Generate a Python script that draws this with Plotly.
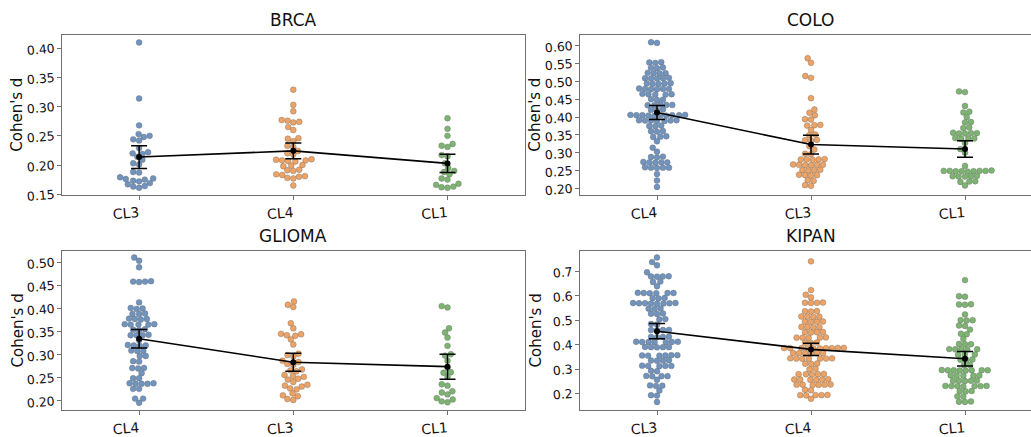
import numpy as np
import plotly.graph_objects as go

# ---------------- data ----------------
panel_titles = ["BRCA", "COLO", "GLIOMA", "KIPAN"]
brca_categories = ["CL3", "CL4", "CL1"]
colo_categories = ["CL4", "CL3", "CL1"]
glioma_categories = ["CL4", "CL3", "CL1"]
kipan_categories = ["CL3", "CL4", "CL1"]

brca_cl3 = [0.410, 0.314, 0.268, 0.253, 0.250, 0.248, 0.244, 0.242, 0.229, 0.222, 0.220, 0.219, 0.214,
            0.209, 0.203, 0.201, 0.188, 0.187, 0.179, 0.177, 0.176, 0.175, 0.173, 0.172, 0.169, 0.167,
            0.164, 0.163, 0.161]
brca_cl4 = [0.329, 0.303, 0.292, 0.277, 0.276, 0.274, 0.273, 0.265, 0.260, 0.246, 0.245, 0.241, 0.233,
            0.231, 0.224, 0.220, 0.218, 0.210, 0.209, 0.208, 0.208, 0.207, 0.206, 0.200, 0.199, 0.198,
            0.192, 0.191, 0.190, 0.184, 0.183, 0.181, 0.180, 0.178, 0.177, 0.165]
brca_cl1 = [0.280, 0.262, 0.250, 0.236, 0.233, 0.231, 0.217, 0.215, 0.203, 0.195, 0.190, 0.188, 0.184,
            0.177, 0.175, 0.168, 0.166, 0.163, 0.162, 0.161]

colo_cl4 = [0.610, 0.608,
            0.554, 0.553, 0.552,
            0.539, 0.538, 0.537,
            0.524, 0.523, 0.523, 0.522,
            0.510, 0.509, 0.509, 0.508, 0.508,
            0.495, 0.494, 0.494, 0.493, 0.493,
            0.480, 0.479, 0.479, 0.479, 0.478, 0.478,
            0.465, 0.464, 0.464, 0.463, 0.463,
            0.450, 0.449, 0.448,
            0.435, 0.434, 0.434, 0.433, 0.433,
            0.421, 0.420, 0.419,
            0.406, 0.406, 0.405, 0.405, 0.405, 0.405, 0.404, 0.404, 0.404, 0.403,
            0.391, 0.391, 0.390, 0.390, 0.390, 0.389, 0.389,
            0.376, 0.375, 0.374,
            0.361, 0.360, 0.359,
            0.346, 0.345, 0.344,
            0.332, 0.314, 0.303,
            0.289, 0.288, 0.287,
            0.274, 0.273, 0.273, 0.273, 0.272,
            0.259, 0.258, 0.258, 0.258, 0.257,
            0.240, 0.222, 0.204]
colo_cl3 = [0.565, 0.552, 0.515, 0.510, 0.453, 0.421, 0.412, 0.405,
            0.394, 0.393,
            0.378, 0.377, 0.376,
            0.364,
            0.351, 0.349,
            0.336, 0.335, 0.334,
            0.318, 0.309,
            0.297, 0.296,
            0.282, 0.281, 0.281, 0.281, 0.280,
            0.267, 0.266, 0.266, 0.266, 0.265, 0.265,
            0.252, 0.251, 0.251, 0.250,
            0.238, 0.237, 0.237, 0.236,
            0.223, 0.221,
            0.209, 0.207]
colo_cl1 = [0.472, 0.470,
            0.431,
            0.415, 0.413,
            0.400,
            0.386, 0.385,
            0.371, 0.369,
            0.356, 0.355, 0.355, 0.354, 0.354,
            0.341, 0.340, 0.340, 0.339,
            0.327,
            0.310, 0.300,
            0.263,
            0.250, 0.249, 0.249, 0.249, 0.249, 0.248, 0.248, 0.248, 0.247,
            0.235, 0.234, 0.234, 0.233, 0.233,
            0.220, 0.219, 0.218,
            0.208]

glioma_cl4 = [0.510, 0.503, 0.489,
              0.459, 0.458, 0.458, 0.457,
              0.413,
              0.401, 0.400, 0.399,
              0.389, 0.388, 0.388,
              0.378, 0.377, 0.377, 0.376,
              0.366, 0.366, 0.365, 0.365, 0.365,
              0.355, 0.354, 0.353,
              0.343, 0.342, 0.342, 0.342,
              0.331,
              0.321, 0.320, 0.320, 0.319,
              0.309, 0.308, 0.308,
              0.297, 0.297,
              0.286, 0.285,
              0.271, 0.271, 0.270,
              0.260,
              0.249, 0.249,
              0.238, 0.238, 0.237, 0.237, 0.237,
              0.226, 0.226,
              0.205, 0.205,
              0.196]
glioma_cl3 = [0.415, 0.408, 0.403, 0.368, 0.357, 0.345, 0.344, 0.342, 0.341, 0.333, 0.322, 0.302, 0.299,
              0.296, 0.287, 0.284, 0.280, 0.278, 0.268, 0.266, 0.264, 0.256, 0.254, 0.252, 0.248, 0.246,
              0.241, 0.235, 0.233, 0.231, 0.227, 0.225, 0.216, 0.212, 0.210, 0.204, 0.202]
glioma_cl1 = [0.405, 0.402, 0.357, 0.348, 0.337, 0.319, 0.301, 0.298, 0.287, 0.272, 0.262, 0.261, 0.252,
              0.236, 0.233, 0.221, 0.218, 0.214, 0.206, 0.203, 0.199, 0.197]

kipan_cl3 = [0.758, 0.739, 0.726, 0.697,
             0.681, 0.680, 0.680, 0.679,
             0.659, 0.657,
             0.640,
             0.613, 0.612, 0.612, 0.612, 0.611, 0.611,
             0.592, 0.591, 0.590,
             0.571, 0.571, 0.570, 0.570, 0.570, 0.569, 0.569, 0.568,
             0.549, 0.548, 0.547,
             0.528, 0.527, 0.526,
             0.505, 0.504,
             0.485, 0.483,
             0.461, 0.460, 0.460, 0.459,
             0.433, 0.432, 0.432, 0.431,
             0.412, 0.412, 0.411, 0.411, 0.411, 0.410, 0.410,
             0.391, 0.390, 0.390, 0.390, 0.389,
             0.357, 0.357, 0.356, 0.356, 0.355, 0.355,
             0.336, 0.335, 0.335, 0.334,
             0.314, 0.313, 0.313, 0.313, 0.312,
             0.293, 0.291,
             0.272, 0.271, 0.271, 0.270,
             0.256,
             0.233, 0.232, 0.231,
             0.212,
             0.193, 0.191,
             0.165]
kipan_cl4 = [0.742, 0.624, 0.605, 0.594,
             0.573, 0.572, 0.572, 0.571,
             0.538, 0.537, 0.536,
             0.516, 0.515, 0.515, 0.514,
             0.495, 0.494, 0.494, 0.493,
             0.473, 0.472, 0.472, 0.471,
             0.452, 0.451, 0.451, 0.450,
             0.430, 0.429, 0.429, 0.429, 0.428,
             0.409, 0.408, 0.407,
             0.387, 0.387, 0.386, 0.386, 0.386, 0.386, 0.386, 0.385, 0.385, 0.385,
             0.366, 0.365, 0.365, 0.365, 0.364, 0.364,
             0.344, 0.344, 0.343, 0.343, 0.343, 0.342, 0.342,
             0.323, 0.322, 0.321,
             0.301, 0.299,
             0.280, 0.279, 0.279, 0.279, 0.278,
             0.258, 0.257, 0.257, 0.257, 0.256, 0.256,
             0.237, 0.236, 0.236, 0.236, 0.235, 0.235,
             0.215, 0.213,
             0.194, 0.193, 0.193, 0.193, 0.192,
             0.178]
kipan_cl1 = [0.665,
             0.599, 0.597,
             0.566, 0.565, 0.564,
             0.524,
             0.501, 0.500, 0.499,
             0.479, 0.477,
             0.462,
             0.445, 0.443,
             0.424,
             0.403, 0.402, 0.402,
             0.382, 0.381, 0.381, 0.381, 0.380,
             0.360, 0.359, 0.359,
             0.339, 0.338, 0.337,
             0.317, 0.316,
             0.296, 0.295, 0.295, 0.295, 0.295, 0.295, 0.294, 0.294,
             0.274, 0.274, 0.273, 0.273, 0.273,
             0.253, 0.252, 0.252, 0.252, 0.251,
             0.231, 0.231, 0.230, 0.230, 0.230, 0.230, 0.229,
             0.210, 0.209, 0.208,
             0.188, 0.187,
             0.167, 0.166, 0.165]

brca_yticks = [0.15, 0.20, 0.25, 0.30, 0.35, 0.40]
colo_yticks = [0.20, 0.25, 0.30, 0.35, 0.40, 0.45, 0.50, 0.55, 0.60]
glioma_yticks = [0.20, 0.25, 0.30, 0.35, 0.40, 0.45, 0.50]
kipan_yticks = [0.2, 0.3, 0.4, 0.5, 0.6, 0.7]

y_label = "Cohen's d"

# ---------------- layout geometry (pixels) ----------------
W, H = 1031, 437
COLORS = ["rgb(113,148,191)", "rgb(236,163,101)", "rgb(125,180,114)"]
EDGE = "rgba(95,95,95,0.55)"
FONT = "DejaVu Sans"
SPINE = "#707070"
MARK_SIZE = 5.9
SWARM_D = 5.7

panels = [
    dict(title=panel_titles[0], cats=brca_categories, groups=[brca_cl3, brca_cl4, brca_cl1],
         yticks=brca_yticks, fmt="{:.2f}", yr=(0.1483, 0.4223), box=(62, 524.5, 36, 199.3),
         spacing=154.2, right=True),
    dict(title=panel_titles[1], cats=colo_categories, groups=[colo_cl4, colo_cl3, colo_cl1],
         yticks=colo_yticks, fmt="{:.2f}", yr=(0.1808, 0.6294), box=(580, 1031, 36, 199.3),
         spacing=154.0, right=False),
    dict(title=panel_titles[2], cats=glioma_categories, groups=[glioma_cl4, glioma_cl3, glioma_cl1],
         yticks=glioma_yticks, fmt="{:.2f}", yr=(0.1795, 0.5233), box=(62, 524.5, 256.7, 419),
         spacing=154.2, right=True),
    dict(title=panel_titles[3], cats=kipan_categories, groups=[kipan_cl3, kipan_cl4, kipan_cl1],
         yticks=kipan_yticks, fmt="{:.1f}", yr=(0.1305, 0.7828), box=(580, 1031, 256.7, 419),
         spacing=154.0, right=False),
]


def swarm_offsets(ypx, d):
    """Beeswarm layout (same rule as seaborn's swarmplot), in pixel units."""
    ypx = np.asarray(ypx, dtype=float)
    order = np.argsort(ypx, kind="mergesort")
    ys = ypx[order]
    px_list, py_list = [], []
    for k, y in enumerate(ys):
        if k == 0:
            px_list.append(0.0)
            py_list.append(y)
            continue
        pxa = np.array(px_list)
        pya = np.array(py_list)
        near = np.abs(pya - y) < d
        nx, ny = pxa[near], pya[near]
        cands = [0.0]
        left_first = True
        for a, b in zip(nx[::-1], ny[::-1]):
            dx = np.sqrt(max(d * d - (y - b) ** 2, 0.0)) * 1.05
            cands += ([a - dx, a + dx] if left_first else [a + dx, a - dx])
            left_first = not left_first
        cands = sorted(cands, key=lambda c: abs(c))
        chosen = cands[-1]
        for c in cands:
            if np.all((nx - c) ** 2 + (ny - y) ** 2 >= d * d * 0.999):
                chosen = c
                break
        px_list.append(chosen)
        py_list.append(y)
    out = np.zeros(len(ys))
    out[order] = px_list
    return out


fig = go.Figure()
annotations = []
layout_axes = {}

for i, p in enumerate(panels):
    x0, x1, top, bot = p["box"]
    width_px = x1 - x0
    height_px = bot - top
    xr = (-0.5, -0.5 + width_px / p["spacing"])
    px_per_x = p["spacing"]
    px_per_y = height_px / (p["yr"][1] - p["yr"][0])
    sfx = "" if i == 0 else str(i + 1)
    xa, ya = "x" + sfx, "y" + sfx

    means, cis = [], []
    for j, vals in enumerate(p["groups"]):
        arr = np.asarray(vals, dtype=float)
        offs = swarm_offsets(arr * px_per_y, SWARM_D) / px_per_x
        fig.add_trace(go.Scatter(
            x=j + offs, y=arr, mode="markers", xaxis=xa, yaxis=ya, showlegend=False,
            marker=dict(size=MARK_SIZE, color=COLORS[j], line=dict(width=0.6, color=EDGE)),
            hoverinfo="y"))
        means.append(arr.mean())
        cis.append(1.96 * arr.std(ddof=1) / np.sqrt(len(arr)))

    fig.add_trace(go.Scatter(
        x=list(range(len(p["cats"]))), y=means, mode="lines+markers", xaxis=xa, yaxis=ya,
        showlegend=False, line=dict(color="black", width=1.6),
        marker=dict(size=6, color="black"),
        error_y=dict(type="data", array=cis, visible=True, color="black", thickness=1.5, width=8)))

    layout_axes["xaxis" + sfx] = dict(
        domain=[x0 / W, x1 / W], range=list(xr), anchor=ya, tickmode="array",
        tickvals=list(range(len(p["cats"]))), ticktext=p["cats"], tickangle=-5,
        tickfont=dict(size=14, color="#111", family=FONT), showgrid=False, zeroline=False,
        showline=True, linecolor=SPINE, linewidth=1, mirror=True, ticks="outside",
        ticklen=4, tickcolor=SPINE, fixedrange=True)
    layout_axes["yaxis" + sfx] = dict(
        domain=[1 - bot / H, 1 - top / H], range=list(p["yr"]), anchor=xa, tickmode="array",
        tickvals=p["yticks"], ticktext=[p["fmt"].format(v) for v in p["yticks"]], tickangle=-5,
        tickfont=dict(size=12.5, color="#111", family=FONT), showgrid=False, zeroline=False,
        showline=True, linecolor=SPINE, linewidth=1, mirror=p["right"], ticks="outside",
        ticklen=4, tickcolor=SPINE, fixedrange=True)

    full_right = x0 + 3 * p["spacing"]
    annotations.append(dict(
        text=p["title"], xref="paper", yref="paper", x=((x0 + full_right) / 2) / W,
        y=1 - (top - 15.5) / H, xanchor="center", yanchor="middle", showarrow=False,
        font=dict(size=17, color="#111", family=FONT)))
    annotations.append(dict(
        text=y_label, xref="paper", yref="paper", x=(x0 - 44.5) / W, y=1 - ((top + bot) / 2) / H,
        xanchor="center", yanchor="middle", showarrow=False, textangle=-90,
        font=dict(size=15, color="#111", family=FONT)))

fig.update_layout(
    width=W, height=H, margin=dict(l=0, r=0, t=0, b=0), paper_bgcolor="white",
    plot_bgcolor="white", font=dict(family=FONT), annotations=annotations, **layout_axes)

fig.write_html(
    "out.html",
    config={"displayModeBar": False},
    post_script="document.body.style.margin='0';document.body.style.overflow='hidden';",
)
